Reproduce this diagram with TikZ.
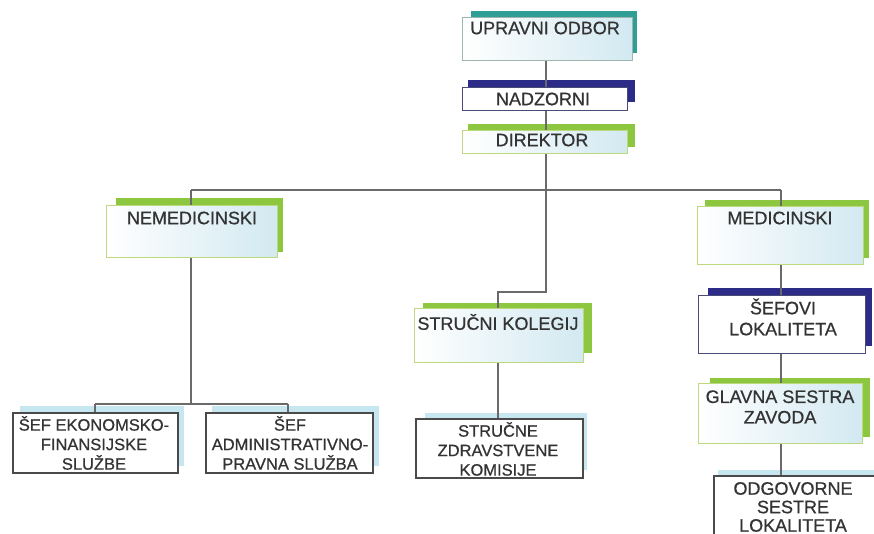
\documentclass[tikz,border=0pt]{standalone}
\usepackage{fontspec}
\setmainfont[FakeBold=0.7]{Liberation Sans}
\definecolor{lineg}{HTML}{6A6A6A}
\definecolor{tealc}{HTML}{2F9E96}
\definecolor{navyc}{HTML}{2C2B88}
\definecolor{greenc}{HTML}{8DC63F}
\definecolor{sky}{HTML}{C6E7EF}
\definecolor{paleb}{HTML}{D2E9F1}
\definecolor{lgreen}{HTML}{BCD97E}
\definecolor{tgray}{HTML}{9FB5AE}
\definecolor{navyline}{HTML}{4A4A78}
\definecolor{dbox}{HTML}{4A4A4A}
\definecolor{txt}{HTML}{333333}
\tikzset{
  front/.style={draw=#1, line width=1.3pt, rectangle, inner sep=0pt, anchor=north west,
    left color=white, right color=paleb},
  wbox/.style={draw=dbox, line width=1.6pt, rectangle, inner sep=0pt, anchor=north west, fill=white},
  lbl/.style={text=txt, font=\fontsize{18}{20.5}\selectfont, align=center, inner sep=0pt},
  slbl/.style={text=txt, font=\fontsize{16.5}{19.5}\selectfont, align=center, inner sep=0pt},
  conn/.style={draw=lineg, line width=2.6pt}
}
\begin{document}
\begin{tikzpicture}[x=1pt,y=-1pt]
\clip (0,0) rectangle (874,534);
\fill[white] (0,0) rectangle (874,534);

% junction coordinates
\coordinate (jc) at (546,190);
\coordinate (jl) at (191,190);
\coordinate (jr) at (781,190);
\coordinate (jk) at (546,292);
\coordinate (jk2) at (498,292);
\coordinate (jn) at (191,404);
\coordinate (jn1) at (95,404);
\coordinate (jn2) at (288,404);

% back shadows
\fill[tealc] (471,11) rectangle (637,53);
\fill[navyc] (468,80) rectangle (635,102);
\fill[greenc] (468,124) rectangle (635,147);
\fill[greenc] (116,198) rectangle (283,252);
\fill[greenc] (705,200) rectangle (869,258);
\fill[greenc] (423,303) rectangle (592,353);
\fill[sky] (425,413) rectangle (587,470);
\fill[sky] (20,406) rectangle (184,466);
\fill[sky] (212,406) rectangle (379,466);
\fill[navyc] (708,288) rectangle (872,346);
\fill[greenc] (710,378) rectangle (870,437);
\fill[sky] (718,470) rectangle (880,560);

% front boxes
\node[front=tgray, minimum width=170, minimum height=43] (upr) at (462,17) {};
\node[front=navyline, minimum width=165, minimum height=23, right color=white] (nadz) at (462,87) {};
\node[front=lgreen, minimum width=165, minimum height=23] (dir) at (462,130) {};
\node[front=lgreen, minimum width=171, minimum height=52] (nem) at (106,205) {};
\node[front=lgreen, minimum width=166, minimum height=58] (med) at (697,206) {};
\node[front=lgreen, minimum width=169, minimum height=54] (kol) at (414,308) {};
\node[wbox, minimum width=167, minimum height=59] (kom) at (415,418) {};
\node[wbox, minimum width=165, minimum height=60] (ekon) at (12,412) {};
\node[wbox, minimum width=167, minimum height=60] (adm) at (205,412) {};
\node[front=navyline, minimum width=167, minimum height=58, right color=white] (sef) at (698,295) {};
\node[front=lgreen, minimum width=164, minimum height=60] (gla) at (698,383) {};
\node[wbox, minimum width=162, minimum height=80] (odg) at (713,475) {};

% connectors
\draw[conn] (upr.south -| jc) -- (nadz.north -| jc);
\draw[conn] (nadz.south -| jc) -- (dir.north -| jc);
\draw[conn] (dir.south -| jc) -- (jc);
\draw[conn] (jl) -- (jr);
\draw[conn] (jl) -- (nem.north -| jl);
\draw[conn] (jr) -- (med.north -| jr);
\draw[conn] (jc) -- (jk) -- (jk2) -- (kol.north -| jk2);
\draw[conn] (kol.south -| jk2) -- (kom.north -| jk2);
\draw[conn] (nem.south -| jn) -- (jn);
\draw[conn] (jn1) -- (jn2);
\draw[conn] (jn1) -- (ekon.north -| jn1);
\draw[conn] (jn2) -- (adm.north -| jn2);
\draw[conn] (med.south -| jr) -- (sef.north -| jr);
\draw[conn] (sef.south -| jr) -- (gla.north -| jr);
\draw[conn] (gla.south -| jr) -- (odg.north -| jr);

% labels
\node[lbl] (t-upr) at (545,28) {UPRAVNI ODBOR};
\node[lbl] (t-nadz) at (543,99) {NADZORNI};
\node[lbl] (t-dir) at (542,140) {DIREKTOR};
\node[lbl] (t-nem) at (192,218) {NEMEDICINSKI};
\node[lbl] (t-med) at (780,218) {MEDICINSKI};
\node[lbl] (t-kol) at (498,322) {STRUČNI KOLEGIJ};
\node[slbl] (t-kom) at (498,449) {STRUČNE\\ZDRAVSTVENE\\KOMISIJE};
\node[slbl] (t-ekon) at (94,443) {ŠEF EKONOMSKO-\\FINANSIJSKE\\SLUŽBE};
\node[slbl] (t-adm) at (290,443) {ŠEF\\ADMINISTRATIVNO-\\PRAVNA SLUŽBA};
\node[lbl, font=\fontsize{18}{21}\selectfont] (t-sef) at (783,317) {ŠEFOVI\\LOKALITETA};
\node[lbl] (t-gla) at (780,407) {GLAVNA SESTRA\\ZAVODA};
\node[lbl, font=\fontsize{18}{18.5}\selectfont] (t-odg) at (793,507) {ODGOVORNE\\SESTRE\\LOKALITETA};
\end{tikzpicture}
\end{document}
